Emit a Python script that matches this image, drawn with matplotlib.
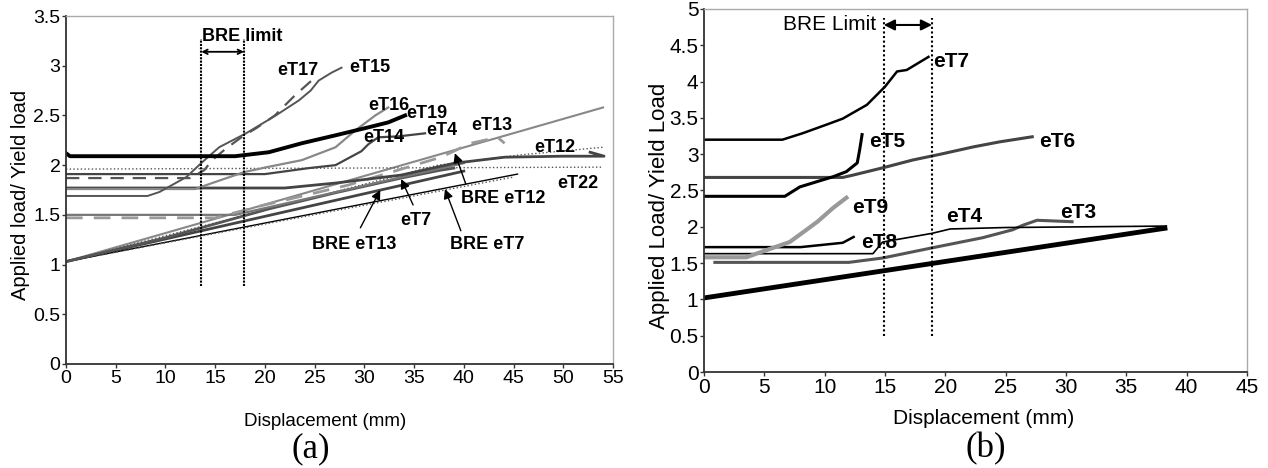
import matplotlib
matplotlib.use("Agg")
import matplotlib.pyplot as plt
from matplotlib.ticker import MultipleLocator, FuncFormatter

plt.rcParams['font.family'] = ['Liberation Sans', 'DejaVu Sans']

# ---------------- panel (a) data ----------------
a_eT17_x = [0, 12.5, 13.9, 14.7, 16, 17.9, 19.1, 21, 23, 24.8]
a_eT17_y = [1.87, 1.87, 1.95, 2.05, 2.16, 2.30, 2.37, 2.5, 2.7, 2.86]
a_eT15_x = [0, 8.2, 9.4, 12.1, 13.7, 15.4, 18.1, 19.1, 21.1, 23.4, 24.6, 25.4, 26.7, 27.7]
a_eT15_y = [1.69, 1.69, 1.73, 1.88, 2.03, 2.18, 2.32, 2.38, 2.5, 2.65, 2.75, 2.85, 2.93, 2.98]
a_eT16_x = [0, 13, 14.7, 17.9, 20.2, 23.7, 27.1, 29.1, 31.1, 32.4]
a_eT16_y = [1.76, 1.76, 1.82, 1.93, 1.98, 2.05, 2.18, 2.35, 2.5, 2.58]
a_eT19_x = [0, 0.4, 17, 20.4, 23.7, 25.4, 27.1, 30.4, 32.4, 34.1]
a_eT19_y = [2.12, 2.09, 2.09, 2.13, 2.22, 2.26, 2.30, 2.38, 2.43, 2.5]
a_eT4_x = [0, 20, 24.4, 27.1, 28.4, 29.7, 30.4, 31.4, 33.5, 36.1]
a_eT4_y = [1.91, 1.91, 1.97, 2.0, 2.07, 2.14, 2.21, 2.28, 2.29, 2.32]
a_eT12_x = [0, 22, 27.1, 33.7, 39.1, 44.1, 50, 54.1, 52.7]
a_eT12_y = [1.77, 1.77, 1.82, 1.90, 2.02, 2.08, 2.09, 2.09, 2.13]
a_eT13_x = [0, 15, 20, 28.4, 37.7, 40.7, 43.4, 44.1]
a_eT13_y = [1.47, 1.47, 1.6, 1.8, 2.08, 2.22, 2.28, 2.22]
a_eT14_x = [0, 17, 25, 32, 40]
a_eT14_y = [1.50, 1.50, 1.68, 1.84, 2.02]
a_eT22_x = [0, 54]
a_eT22_y = [1.96, 1.98]
a_eT22b_x = [0, 20, 37.4, 45.4, 54]
a_eT22b_y = [1.03, 1.55, 2.0, 2.1, 2.18]
a_eT7_x = [0, 10, 20.4, 27, 33.7, 37.7, 39]
a_eT7_y = [1.03, 1.27, 1.56, 1.72, 1.87, 1.95, 1.97]
a_bre12_x = [0, 54]
a_bre12_y = [1.03, 2.58]
a_bre13_x = [0, 40]
a_bre13_y = [1.03, 1.94]
a_bre7_x = [0, 45.4]
a_bre7_y = [1.03, 1.91]
a_fan_dot_x = [0, 45]
a_fan_dot_y = [1.03, 1.88]
a_limit_x = [13.6, 17.9]

# ---------------- panel (b) data ----------------
b_eT7_x = [0, 6.5, 8.2, 10.2, 11.5, 13.5, 15.0, 16.0, 16.8, 17.7, 18.6]
b_eT7_y = [3.20, 3.20, 3.29, 3.41, 3.49, 3.68, 3.93, 4.14, 4.16, 4.25, 4.34]
b_eT5_x = [0, 6.7, 7.95, 10.7, 11.8, 12.7, 12.9, 13.1]
b_eT5_y = [2.42, 2.42, 2.55, 2.69, 2.76, 2.88, 3.06, 3.27]
b_eT6_x = [0, 11.5, 12.3, 15.0, 17.3, 19.6, 22.3, 24.5, 27.2]
b_eT6_y = [2.68, 2.68, 2.71, 2.82, 2.92, 3.0, 3.1, 3.17, 3.24]
b_eT9_x = [0, 3.5, 5.2, 7.1, 8.5, 9.4, 10.7, 11.8]
b_eT9_y = [1.58, 1.58, 1.68, 1.79, 1.96, 2.07, 2.26, 2.40]
b_eT8_x = [0, 8, 11.5, 12.4]
b_eT8_y = [1.72, 1.72, 1.78, 1.86]
b_eT4_x = [0, 14, 14.8, 18.9, 20.4, 25, 38.3]
b_eT4_y = [1.63, 1.63, 1.79, 1.91, 1.97, 1.99, 2.01]
b_eT3_x = [0.9, 12, 14.8, 18.9, 23.1, 25.6, 26.4, 27.6, 30.5]
b_eT3_y = [1.51, 1.51, 1.57, 1.71, 1.85, 1.96, 2.02, 2.09, 2.07]
b_bre_x = [0, 38.2]
b_bre_y = [1.02, 1.98]
b_limit_x = [14.9, 18.9]

W, H = 1268, 468
fig = plt.figure(figsize=(W / 100, H / 100), dpi=100)


def style_axes(ax, fs):
    for s in ['left', 'bottom']:
        ax.spines[s].set_color('#333333')
        ax.spines[s].set_linewidth(1.3)
    for s in ['top', 'right']:
        ax.spines[s].set_color('#aaaaaa')
        ax.spines[s].set_linewidth(1.0)
    ax.tick_params(direction='out', length=3, width=1, colors='#333333',
                   labelcolor='black', labelsize=fs, pad=1)
    ax.yaxis.set_major_formatter(FuncFormatter(lambda v, p: '%g' % v))
    ax.xaxis.set_major_formatter(FuncFormatter(lambda v, p: '%g' % v))


# ---------------- (a) ----------------
ax1 = fig.add_axes([66 / W, 1 - 364 / H, 547 / W, 348 / H])
ax1.set_xlim(0, 55)
ax1.set_ylim(0, 3.5)
ax1.xaxis.set_major_locator(MultipleLocator(5))
ax1.yaxis.set_major_locator(MultipleLocator(0.5))
style_axes(ax1, 14)

ax1.plot(a_bre12_x, a_bre12_y, color='#888888', lw=1.5)
ax1.plot(a_bre13_x, a_bre13_y, color='#444444', lw=2)
ax1.plot(a_bre7_x, a_bre7_y, color='black', lw=1)
ax1.plot(a_fan_dot_x, a_fan_dot_y, color='#555555', lw=1, ls=':')
ax1.plot(a_eT22_x, a_eT22_y, color='#555555', lw=1, ls=':')
ax1.plot(a_eT22b_x, a_eT22b_y, color='#555555', lw=1, ls=':')
ax1.plot(a_eT7_x, a_eT7_y, color='#555555', lw=2)
ax1.plot(a_eT14_x, a_eT14_y, color='#777777', lw=1.6)
ax1.plot(a_eT13_x, a_eT13_y, color='#999999', lw=2, ls=(0, (6, 4)))
ax1.plot(a_eT12_x, a_eT12_y, color='#444444', lw=2)
ax1.plot(a_eT4_x, a_eT4_y, color='#444444', lw=1.6)
ax1.plot(a_eT16_x, a_eT16_y, color='#888888', lw=1.6)
ax1.plot(a_eT15_x, a_eT15_y, color='#555555', lw=1.4)
ax1.plot(a_eT17_x, a_eT17_y, color='#555555', lw=1.6, ls=(0, (6, 4)))
ax1.plot(a_eT19_x, a_eT19_y, color='black', lw=2.8)

for xv in a_limit_x:
    ax1.plot([xv, xv], [0.78, 3.27], color='black', lw=1.5, ls=(0, (1, 0.6)))
ax1.annotate('', xy=(a_limit_x[0], 3.14), xytext=(a_limit_x[1], 3.14),
             arrowprops=dict(arrowstyle='<->', color='black', lw=1.3,
                             shrinkA=0, shrinkB=0, mutation_scale=8))
ax1.text(13.7, 3.29, 'BRE limit', fontsize=13, fontweight='bold', ha='left', va='center')

a_labels = [('eT17', 23.3, 2.95), ('eT15', 30.5, 2.98), ('eT16', 32.5, 2.60),
            ('eT19', 36.3, 2.52), ('eT14', 32.0, 2.28), ('eT4', 37.8, 2.35),
            ('eT13', 42.8, 2.40), ('eT12', 49.1, 2.18), ('eT22', 51.5, 1.82)]
for t, xv, yv in a_labels:
    ax1.text(xv, yv, t, fontsize=13, fontweight='bold', ha='center', va='center')

a_arrows = [('BRE eT13', (29.0, 1.20), (29.6, 1.37), (31.6, 1.75)),
            ('eT7', (35.2, 1.44), (34.9, 1.60), (33.7, 1.86)),
            ('BRE eT7', (42.3, 1.20), (39.7, 1.34), (38.1, 1.76)),
            ('BRE eT12', (44.0, 1.66), (40.2, 1.81), (39.1, 2.12))]
for t, tp, tail, tip in a_arrows:
    ax1.text(tp[0], tp[1], t, fontsize=13, fontweight='bold', ha='center', va='center')
    ax1.annotate('', xy=tip, xytext=tail,
                 arrowprops=dict(arrowstyle='-|>', color='black', lw=1,
                                 shrinkA=0, shrinkB=0, mutation_scale=14))

# ---------------- (b) ----------------
ax2 = fig.add_axes([704 / W, 1 - 372 / H, 543 / W, 363 / H])
ax2.set_xlim(0, 45)
ax2.set_ylim(0, 5)
ax2.xaxis.set_major_locator(MultipleLocator(5))
ax2.yaxis.set_major_locator(MultipleLocator(0.5))
style_axes(ax2, 15)

ax2.plot(b_bre_x, b_bre_y, color='black', lw=3.5)
ax2.plot(b_eT3_x, b_eT3_y, color='#555555', lw=2.2)
ax2.plot(b_eT4_x, b_eT4_y, color='black', lw=1.2)
ax2.plot([b_eT4_x[-1], b_bre_x[-1]], [b_eT4_y[-1], b_bre_y[-1]], color='black', lw=1.2)
ax2.plot(b_eT8_x, b_eT8_y, color='black', lw=1.8)
ax2.plot(b_eT9_x, b_eT9_y, color='#999999', lw=3)
ax2.plot(b_eT6_x, b_eT6_y, color='#444444', lw=2.2)
ax2.plot(b_eT5_x, b_eT5_y, color='black', lw=2.2)
ax2.plot(b_eT7_x, b_eT7_y, color='black', lw=1.8)

for xv in b_limit_x:
    ax2.plot([xv, xv], [0.5, 4.88], color='black', lw=1.5, ls=(0, (1, 1.2)))
ax2.annotate('', xy=(b_limit_x[0], 4.78), xytext=(b_limit_x[1], 4.78),
             arrowprops=dict(arrowstyle='<|-|>', color='black', lw=1.5,
                             shrinkA=0, shrinkB=0, mutation_scale=16))
ax2.text(14.3, 4.78, 'BRE Limit', fontsize=15, ha='right', va='center')

b_labels = [('eT7', 20.5, 4.27), ('eT5', 15.2, 3.17), ('eT6', 29.3, 3.17),
            ('eT9', 13.8, 2.27), ('eT8', 14.5, 1.78), ('eT4', 21.6, 2.14),
            ('eT3', 31.0, 2.20)]
for t, xv, yv in b_labels:
    ax2.text(xv, yv, t, fontsize=15, fontweight='bold', ha='center', va='center')

# ---------------- axis titles and captions ----------------
fig.text(325 / W, 1 - 421 / H, 'Displacement (mm)', fontsize=13.5, ha='center', va='center')
fig.text(21 / W, 1 - 195 / H, 'Applied load/ Yield load', fontsize=14.5,
         rotation=90, ha='center', va='center')
fig.text(984 / W, 1 - 419 / H, 'Displacement (mm)', fontsize=15, ha='center', va='center')
fig.text(660 / W, 1 - 206 / H, 'Applied Load/ Yield Load', fontsize=16,
         rotation=90, ha='center', va='center')
fig.text(311 / W, 1 - 449 / H, '(a)', fontsize=25, family='Liberation Serif',
         ha='center', va='center')
fig.text(986 / W, 1 - 449 / H, '(b)', fontsize=25, family='Liberation Serif',
         ha='center', va='center')

fig.savefig('out.png', dpi=100)
